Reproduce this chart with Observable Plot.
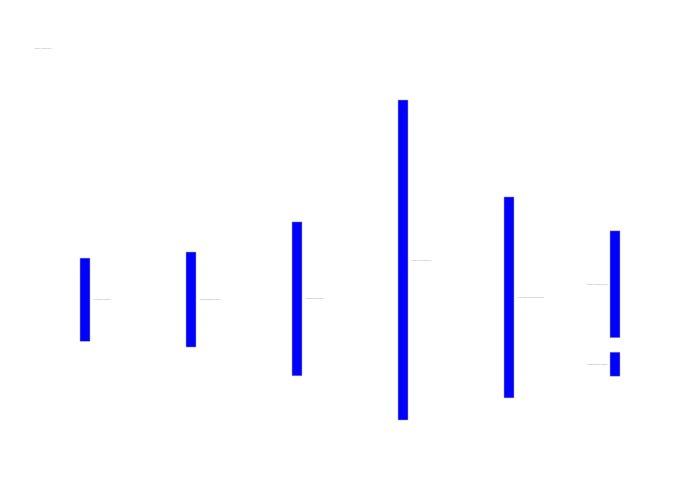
<!DOCTYPE html>
<html>
<head>
<meta charset="utf-8">
<script src="https://cdn.jsdelivr.net/npm/d3@7"></script>
<script src="https://cdn.jsdelivr.net/npm/@observablehq/plot@0.6"></script>
<style>
  body { margin: 0; background: #fff; }
  #wrap { position: relative; width: 700px; height: 500px; }
  #title { position: absolute; left: 35px; top: 47px; font: 2px "Open Sans", sans-serif; color: #999; margin: 0; white-space: nowrap; }
</style>
</head>
<body>
<div id="wrap">
  <div id="title">Energy flow chart</div>
  <div id="chart"></div>
</div>
<script>
// nodos del diagrama (sin enlaces visibles)
const nodeNames = ["Primary supply", "Conversion inputs", "Transformation", "Total throughput", "Final consumption use", "Useful energy out", "Losses and waste"];
const nodeColumn = [0, 1, 2, 3, 4, 5, 5];
const nodeStart = [49.4, 47.5, 38.1, 0, 30.3, 40.9, 78.8];   // en unidades de flujo
const nodeValue = [26, 29.7, 48.1, 100, 62.8, 33.4, 7.5];
const columns = [0, 1, 2, 3, 4, 5];

const nodes = nodeNames.map((name, i) => ({
  name,
  col: nodeColumn[i],
  y1: nodeStart[i],
  y2: nodeStart[i] + nodeValue[i],
  mid: nodeStart[i] + nodeValue[i] / 2,
  last: nodeColumn[i] === columns[columns.length - 1]
}));

let chart = Plot.plot({
  width: 700,
  height: 500,
  marginTop: 100,
  marginBottom: 80,
  marginLeft: 32,
  marginRight: 32,
  x: { type: "band", domain: columns, paddingInner: 0.9057, paddingOuter: 0.4528, axis: null },
  y: { domain: [0, 100], reverse: true, axis: null },
  marks: [
    Plot.barY(nodes, { x: "col", y1: "y1", y2: "y2", fill: "#0000ff", stroke: "#aaaaaa", strokeWidth: 0.5 }),
    Plot.text(nodes.filter(d => !d.last), {
      x: "col", y: "mid", text: "name", dx: 8, dy: -0.7, textAnchor: "start",
      fontSize: 2.5, fill: "#9a9a9a", fontFamily: "Open Sans"
    }),
    Plot.text(nodes.filter(d => d.last), {
      x: "col", y: "mid", text: "name", dx: -8, dy: -0.7, textAnchor: "end",
      fontSize: 2.5, fill: "#9a9a9a", fontFamily: "Open Sans"
    })
  ]
})

d3.select('#chart').append(() => chart)
</script>
</body>
</html>
